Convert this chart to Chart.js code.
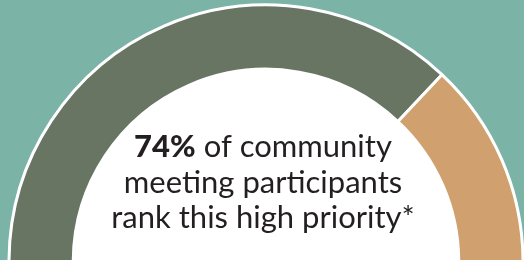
<!DOCTYPE html>
<html>
  <head>
    <title>High priority</title>
    <script src="https://cdn.jsdelivr.net/npm/chart.js"></script>
    <style>
      body { margin: 0; background: #7bb4a7; }
      canvas { display: block; }
    </style>
  </head>
  <body>
    <canvas id="myChart" width="524" height="260"></canvas>
    <script>
      var labels = ["High priority", "Other"];
      var values = [74, 26];
      var colors = ["#677562", "#d0a16e"];
      var captionBold = "74%";
      var captionLines = [" of community", "meeting participants", "rank this high priority*"];

      // white hole + caption in the middle
      var centerText = {
        id: "centerText",
        beforeDatasetsDraw: function (chart) {
          var arc = chart.getDatasetMeta(0).data[0];
          var ctx = chart.ctx;
          ctx.save();
          ctx.fillStyle = "#ffffff";
          ctx.beginPath();
          ctx.arc(arc.x, arc.y, arc.innerRadius, 0, Math.PI * 2);
          ctx.fill();
          ctx.restore();
        },
        afterDraw: function (chart) {
          var ctx = chart.ctx;
          var cx = 263;
          ctx.save();
          ctx.fillStyle = "#231f20";
          ctx.textBaseline = "alphabetic";
          ctx.textAlign = "left";
          var bold = "900 31px Lato";
          var normal = "31px Lato";
          ctx.font = bold;
          var w1 = ctx.measureText(captionBold).width;
          ctx.font = normal;
          var w2 = ctx.measureText(captionLines[0]).width;
          var x = cx - (w1 + w2) / 2;
          ctx.font = bold;
          ctx.fillText(captionBold, x, 157);
          ctx.font = normal;
          ctx.fillText(captionLines[0], x + w1, 157);
          ctx.textAlign = "center";
          ctx.fillText(captionLines[1], cx, 193);
          ctx.fillText(captionLines[2], cx, 228);
          ctx.restore();
        }
      };

      var ctx = document.getElementById("myChart").getContext("2d");
      var myChart = new Chart(ctx, {
        type: "doughnut",
        data: {
          labels: labels,
          datasets: [
            {
              data: values,
              backgroundColor: colors,
              borderColor: "#ffffff",
              borderWidth: 3,
            },
          ],
        },
        options: {
          responsive: false,
          animation: false,
          rotation: -90,
          circumference: 180,
          radius: 257,
          cutout: "75%",
          layout: { padding: { left: 8, top: 7, right: 0, bottom: 0 } },
          plugins: {
            legend: { display: false },
            tooltip: { enabled: false },
          },
        },
        plugins: [centerText],
      });
    </script>
  </body>
</html>
